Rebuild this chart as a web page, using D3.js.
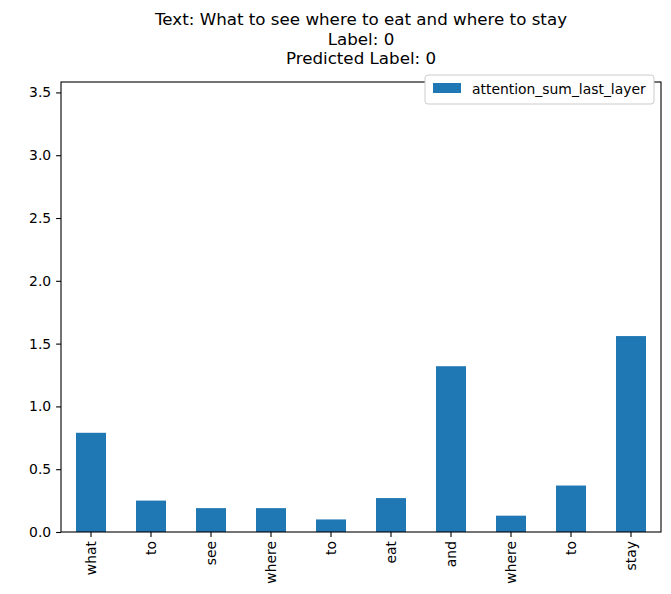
<!DOCTYPE html><html><head><script src="https://cdn.jsdelivr.net/npm/d3@7"></script>
<style>body{margin:0;background:#fff}text{font-family:"DejaVu Sans",sans-serif}</style></head><body><svg id="c" width="671" height="594"></svg>
<script>
const categories=["what","to","see","where","to","eat","and","where","to","stay"];
const values=[0.79,0.25,0.19,0.19,0.10,0.27,1.32,0.13,0.37,1.56];
const yTicks=[0,0.5,1,1.5,2,2.5,3,3.5];
const titleLines=["Text: What to see where to eat and where to stay","Label: 0","Predicted Label: 0"];
const seriesName="attention_sum_last_layer";
const L=61,R=661,T=82,B=532,color="#1f77b4";
const svg=d3.select("#c");
const x=d3.scaleBand().domain(d3.range(categories.length)).range([L,R]).paddingInner(0.5).paddingOuter(0.25);
const y=d3.scaleLinear().domain([0,3.583]).range([B,T]);
svg.selectAll("rect.bar").data(values).join("rect").attr("x",(d,i)=>x(i)).attr("width",x.bandwidth())
 .attr("y",d=>y(d)).attr("height",d=>B-y(d)).attr("fill",color);
const ya=svg.append("g").attr("transform",`translate(${L},0)`).call(d3.axisLeft(y).tickValues(yTicks).tickFormat(d3.format(".1f")).tickSize(4.9).tickPadding(4.9));
const xa=svg.append("g").attr("transform",`translate(0,${B})`).call(d3.axisBottom(x).tickFormat(i=>categories[i]).tickSize(4.9));
[ya,xa].forEach(g=>{g.select(".domain").remove();g.selectAll("text").attr("font-size",13.9).attr("fill","#000").style("font-family","DejaVu Sans");g.selectAll("line").attr("stroke","#000").attr("stroke-width",1.1);});
xa.selectAll("text").attr("transform","rotate(-90)").attr("text-anchor","end").attr("x",-9).attr("y",0).attr("dy","0.35em");
svg.append("rect").attr("x",L).attr("y",T).attr("width",R-L).attr("height",B-T).attr("fill","none").attr("stroke","#000").attr("stroke-width",1.1);
titleLines.forEach((t,i)=>svg.append("text").attr("x",(L+R)/2).attr("y",25+i*19.5).attr("text-anchor","middle").attr("font-size",16.7).text(t));
const lg=svg.append("g");
lg.append("rect").attr("x",425).attr("y",75).attr("width",229).attr("height",29).attr("rx",3).attr("fill","#fff").attr("stroke","#ccc");
lg.append("rect").attr("x",433).attr("y",83).attr("width",28).attr("height",10).attr("fill",color);
lg.append("text").attr("x",472).attr("y",93.5).attr("font-size",13.9).text(seriesName);
</script></body></html>
